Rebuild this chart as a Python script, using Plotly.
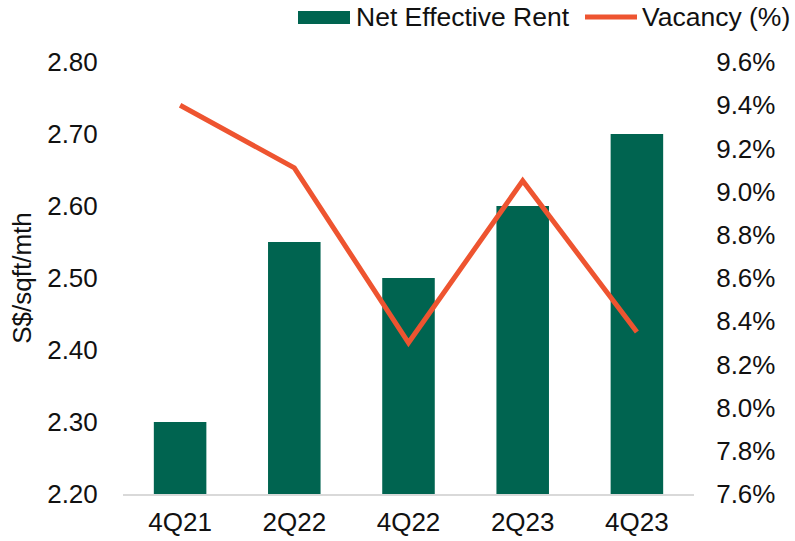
import plotly.graph_objects as go

categories = ["4Q21", "2Q22", "4Q22", "2Q23", "4Q23"]
net_effective_rent = [2.30, 2.55, 2.50, 2.60, 2.70]
vacancy_pct = [9.40, 9.11, 8.30, 9.05, 8.35]
series_names = ["Net Effective Rent", "Vacancy (%)"]

GREEN = "#006450"
ORANGE = "#EE5430"

fig = go.Figure()
fig.add_trace(go.Bar(
    x=categories, y=net_effective_rent, name=series_names[0],
    marker=dict(color=GREEN, line=dict(width=0)), yaxis="y",
))
fig.add_trace(go.Scatter(
    x=categories, y=vacancy_pct, name=series_names[1], mode="lines",
    line=dict(color=ORANGE, width=5), yaxis="y2",
))

FAM = "Liberation Sans, Arial, sans-serif"
font = dict(family=FAM, size=26, color="#111111")

# manual legend (Excel style) placed above the plot area
W, H = 795, 541
L, R, T, B = 123, 101, 62, 47
pw, ph = W - L - R, H - T - B
def px(x):
    return (x - L) / pw
def py(y):
    return (H - B - y) / ph

shapes = [
    dict(type="rect", xref="paper", yref="paper", x0=px(298), x1=px(350),
         y0=py(24), y1=py(11), fillcolor=GREEN, line=dict(width=0)),
    dict(type="line", xref="paper", yref="paper", x0=px(585), x1=px(637),
         y0=py(17), y1=py(17), line=dict(color=ORANGE, width=5)),
]
annotations = [
    dict(text=series_names[0], xref="paper", yref="paper", x=px(354), y=py(17),
         xanchor="left", yanchor="middle", showarrow=False,
         font=dict(family=FAM, size=26.5, color="#111111")),
    dict(text=series_names[1], xref="paper", yref="paper", x=px(640), y=py(17),
         xanchor="left", yanchor="middle", showarrow=False,
         font=dict(family=FAM, size=26.5, color="#111111")),
]

fig.update_layout(
    width=W, height=H,
    margin=dict(l=L, r=R, t=T, b=B, autoexpand=False),
    paper_bgcolor="white", plot_bgcolor="white",
    font=font,
    bargap=0.54,
    showlegend=False,
    shapes=shapes,
    annotations=annotations,
    xaxis=dict(showline=True, linecolor="#d9d9d9", linewidth=1.5, ticks="outside",
               ticklen=4, tickcolor="rgba(0,0,0,0)", showgrid=False, automargin=False),
    yaxis=dict(range=[2.2, 2.8], dtick=0.1, tickformat=".2f", showgrid=False,
               zeroline=False, showline=False, ticks="outside", ticklen=19,
               tickcolor="rgba(0,0,0,0)", automargin=False,
               title=dict(text="S$/sqft/mth", font=dict(size=26), standoff=8)),
    yaxis2=dict(range=[7.6, 9.6], dtick=0.2, tickformat=".1f", ticksuffix="%",
                overlaying="y", side="right", showgrid=False, zeroline=False,
                showline=False, ticks="outside", ticklen=16,
                tickcolor="rgba(0,0,0,0)", automargin=False),
)

fig.write_html("out.html", config={"displayModeBar": False},
               post_script="document.body.style.margin='0';")
